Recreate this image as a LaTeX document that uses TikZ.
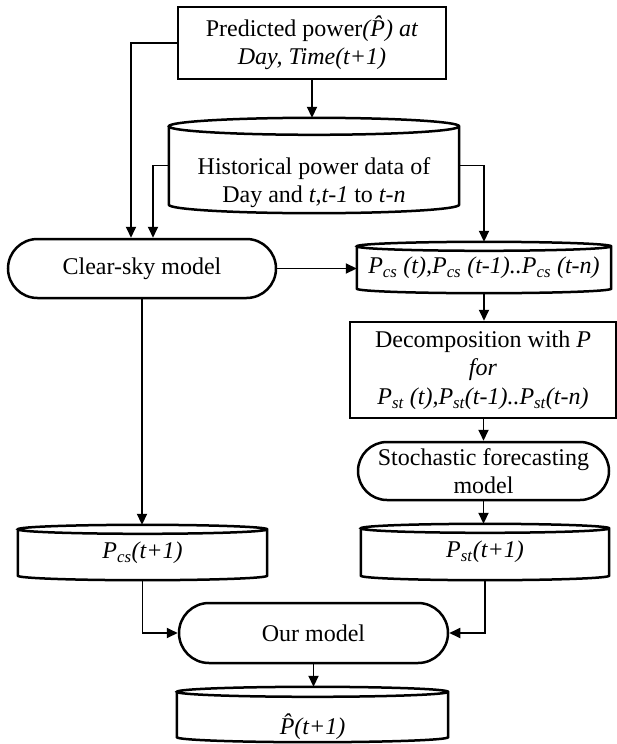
\documentclass[tikz,border=0pt]{standalone}
\usepackage{fontspec}
\setmainfont{Liberation Serif}
\usetikzlibrary{arrows.meta,shapes.misc,calc}

\newcommand\Psub[1]{\textit{P}\textsubscript{\textit{#1}}}
% text set lower in a node, keeping its size
\newcommand\lowered[2]{\raisebox{-#1}[\height][\depth]{\begin{tabular}{@{}c@{}}#2\end{tabular}}}
% cylinder outline round a node, #2 = half height of the ellipses
\newcommand\dbshape[2]{%
  \draw[boxline] let \p1=(#1.north west), \p2=(#1.south east), \n1={(\x2-\x1)/2} in
    (\x1,\y1-#2pt) -- (\x1,\y2+#2pt) arc[start angle=180,end angle=360,x radius=\n1,y radius=#2pt]
    -- (\x2,\y1-#2pt) arc[start angle=0,end angle=360,x radius=\n1,y radius=#2pt];}

\begin{document}
\begin{tikzpicture}[x=1pt,y=1pt,>={Triangle[length=11pt,width=10pt]},
  every node/.style={font=\fontsize{24}{28.5}\selectfont,inner sep=2pt},
  procbox/.style={draw,line width=2.5pt,align=center},
  modelbox/.style={rounded rectangle,draw,line width=2.5pt,align=center},
  dbbox/.style={align=center},
  boxline/.style={line width=2.5pt},
  link/.style={->,line width=1.8pt}]
\useasboundingbox (0,0) rectangle (616,-744);

\node[procbox,minimum width=268pt,minimum height=72pt] (pred) at (312,-43) {Predicted power\textit{(\^{P}) at}\\\textit{Day, Time(t+1)}};
\node[dbbox,minimum width=290pt,minimum height=95pt] (hist) at (314,-165.5) {\lowered{17.5pt}{Historical power data of\\Day and \textit{t},\textit{t-1} to \textit{t-n}}};
\node[modelbox,minimum width=272pt,minimum height=59pt] (clear) at (142,-268.5) {Clear-sky model};
\node[dbbox,minimum width=254pt,minimum height=51pt] (pcs) at (484,-267.5) {\textit{\Psub{cs} (t),\Psub{cs} (t-1)..\Psub{cs} (t-n)}};
\node[procbox,minimum width=266pt,minimum height=96pt] (decomp) at (483,-370) {Decomposition with \textit{P}\\\textit{for}\\\textit{\Psub{st} (t),\Psub{st}(t-1)..\Psub{st}(t-n)}};
\node[modelbox,minimum width=255pt,minimum height=58pt] (stoch) at (483.5,-471) {Stochastic forecasting\\model};
\node[dbbox,minimum width=249pt,minimum height=55pt] (pcsnext) at (142.5,-552.5) {\Psub{cs}\textit{(t+1)}};
\node[dbbox,minimum width=248pt,minimum height=56pt] (pstnext) at (485,-552) {\Psub{st}\textit{(t+1)}};
\node[modelbox,minimum width=273pt,minimum height=60pt] (ours) at (313.5,-633) {Our model};
\node[dbbox,minimum width=271pt,minimum height=55pt] (final) at (312.5,-714.5) {\lowered{13.5pt}{\textit{\^{P}(t+1)}}};

\dbshape{hist}{8.5}
\dbshape{pcs}{4.5}
\dbshape{pcsnext}{4.5}
\dbshape{pstnext}{4.5}
\dbshape{final}{5}

\draw[link] (pred.south) -- (pred.south |- hist.north);
\draw[link] (pred.west) -| ([xshift=-11pt]clear.north);
\draw[link] (hist.west) -| ([xshift=11pt]clear.north);
\draw[link] (hist.east) -| (pcs.north);
\draw[link] (clear.east) -- (clear.east -| pcs.west);
\draw[link] (pcs.south) -- (pcs.south |- decomp.north);
\draw[link] (decomp.south -| stoch.north) -- (stoch.north);
\draw[link] (stoch.south) -- (stoch.south |- pstnext.north);
\draw[link] (clear.south) -- (clear.south |- pcsnext.north);
\draw[link] (pcsnext.south) |- (ours.west);
\draw[link] (pstnext.south) |- (ours.east);
\draw[link] (ours.south) -- (ours.south |- final.north);
\end{tikzpicture}
\end{document}
